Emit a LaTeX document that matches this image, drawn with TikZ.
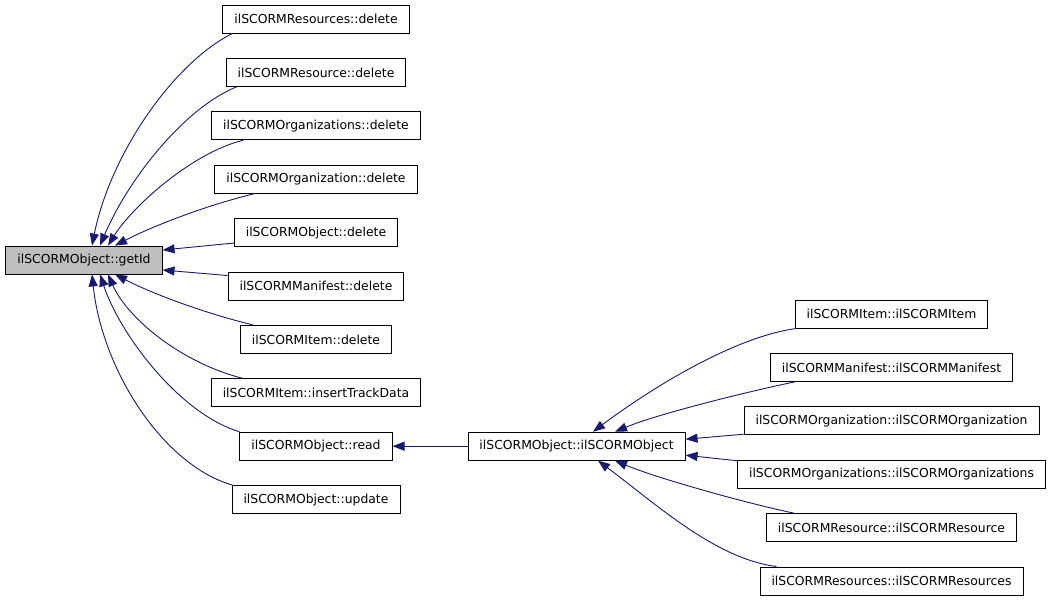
\documentclass[tikz,border=0pt]{standalone}
\usepackage{fontspec}
\setmainfont{DejaVu Sans}
\usetikzlibrary{positioning,arrows.meta}
\definecolor{callblue}{RGB}{25,25,112}
\tikzset{
  fn/.style={draw, line width=0.9pt, minimum height=28pt, inner xsep=11.5pt, inner ysep=0pt,
    font=\fontsize{12.4}{14}\selectfont},
  call/.style={draw=callblue, line width=0.9pt, {Triangle[length=12pt,width=9pt]}-},
}

\begin{document}
\begin{tikzpicture}[x=1pt, y=-1pt, node distance=24.5pt]
  \useasboundingbox[fill=white] (0,0) rectangle (1053,600);
  \node[fn, fill=black!25] (getid) at (84,260) {ilSCORMObject::getId};

  \node[fn] (resd) at (316,19) {ilSCORMResources::delete};
  \node[fn, below=of resd] (resod) {ilSCORMResource::delete};
  \node[fn, below=of resod] (orgsd) {ilSCORMOrganizations::delete};
  \node[fn, below=of orgsd] (orgd) {ilSCORMOrganization::delete};
  \node[fn, below=of orgd] (objd) {ilSCORMObject::delete};
  \node[fn, below=of objd] (mand) {ilSCORMManifest::delete};
  \node[fn, below=of mand] (itemd) {ilSCORMItem::delete};
  \node[fn, below=of itemd] (trackd) {ilSCORMItem::insertTrackData};
  \node[fn, below=of trackd] (readd) {ilSCORMObject::read};
  \node[fn, below=of readd] (upd) {ilSCORMObject::update};

  \node[fn, right=75pt of readd] (ctor) {ilSCORMObject::ilSCORMObject};

  \node[fn] (itemc) at (891.5,314) {ilSCORMItem::ilSCORMItem};
  \node[fn, below=of itemc] (manc) {ilSCORMManifest::ilSCORMManifest};
  \node[fn, below=of manc] (orgc) {ilSCORMOrganization::ilSCORMOrganization};
  \node[fn, below=of orgc] (orgsc) {ilSCORMOrganizations::ilSCORMOrganizations};
  \node[fn, below=of orgsc] (resoc) {ilSCORMResource::ilSCORMResource};
  \node[fn, below=of resoc] (resc) {ilSCORMResources::ilSCORMResources};

  \draw[call] ([xshift=8pt]getid.north) .. controls +(18,-90) and +(-60,30) .. ([xshift=10pt]resd.south west);
  \draw[call] ([xshift=16pt]getid.north) .. controls +(30,-70) and +(-50,20) .. ([xshift=11pt]resod.south west);
  \draw[call] ([xshift=24pt]getid.north) .. controls +(25,-40) and +(-50,12) .. ([xshift=32pt]orgsd.south west);
  \draw[call] ([xshift=31pt]getid.north) .. controls +(35,-18) and +(-53,13) .. ([xshift=40pt]orgd.south west);
  \draw[call] ([yshift=10pt]getid.east) -- ([yshift=4pt]objd.south west);
  \draw[call] ([yshift=-10pt]getid.east) -- ([yshift=-4pt]mand.north west);
  \draw[call] ([xshift=31pt]getid.south) .. controls +(35,18) and +(-53,-13) .. ([xshift=13pt]itemd.north west);
  \draw[call] ([xshift=24pt]getid.south) .. controls +(20,45) and +(-60,-15) .. ([xshift=32pt]trackd.north west);
  \draw[call] ([xshift=16pt]getid.south) .. controls +(20,60) and +(-60,-18) .. (readd.north west);
  \draw[call] ([xshift=8pt]getid.south) .. controls +(10,95) and +(-70,-20) .. ([xshift=1pt]upd.north west);

  \draw[call] (readd.east) -- (ctor.west);

  \draw[call] ([xshift=16.5pt]ctor.north) .. controls +(60,-45) and +(-61,8) .. ([xshift=2pt]itemc.south west);
  \draw[call] ([xshift=38.5pt]ctor.north) .. controls +(43,-18) and +(-44,9) .. ([xshift=25pt]manc.south west);
  \draw[call] ([yshift=7pt]ctor.east) -- ([yshift=1pt]orgc.south west);
  \draw[call] ([yshift=-9pt]ctor.east) -- ([yshift=-1pt]orgsc.north west);
  \draw[call] ([xshift=38.5pt]ctor.south) .. controls +(43,18) and +(-44,-9) .. ([xshift=28pt]resoc.north west);
  \draw[call] ([xshift=21.5pt]ctor.south) .. controls +(60,45) and +(-61,-8) .. ([xshift=17pt]resc.north west);
\end{tikzpicture}
\end{document}
